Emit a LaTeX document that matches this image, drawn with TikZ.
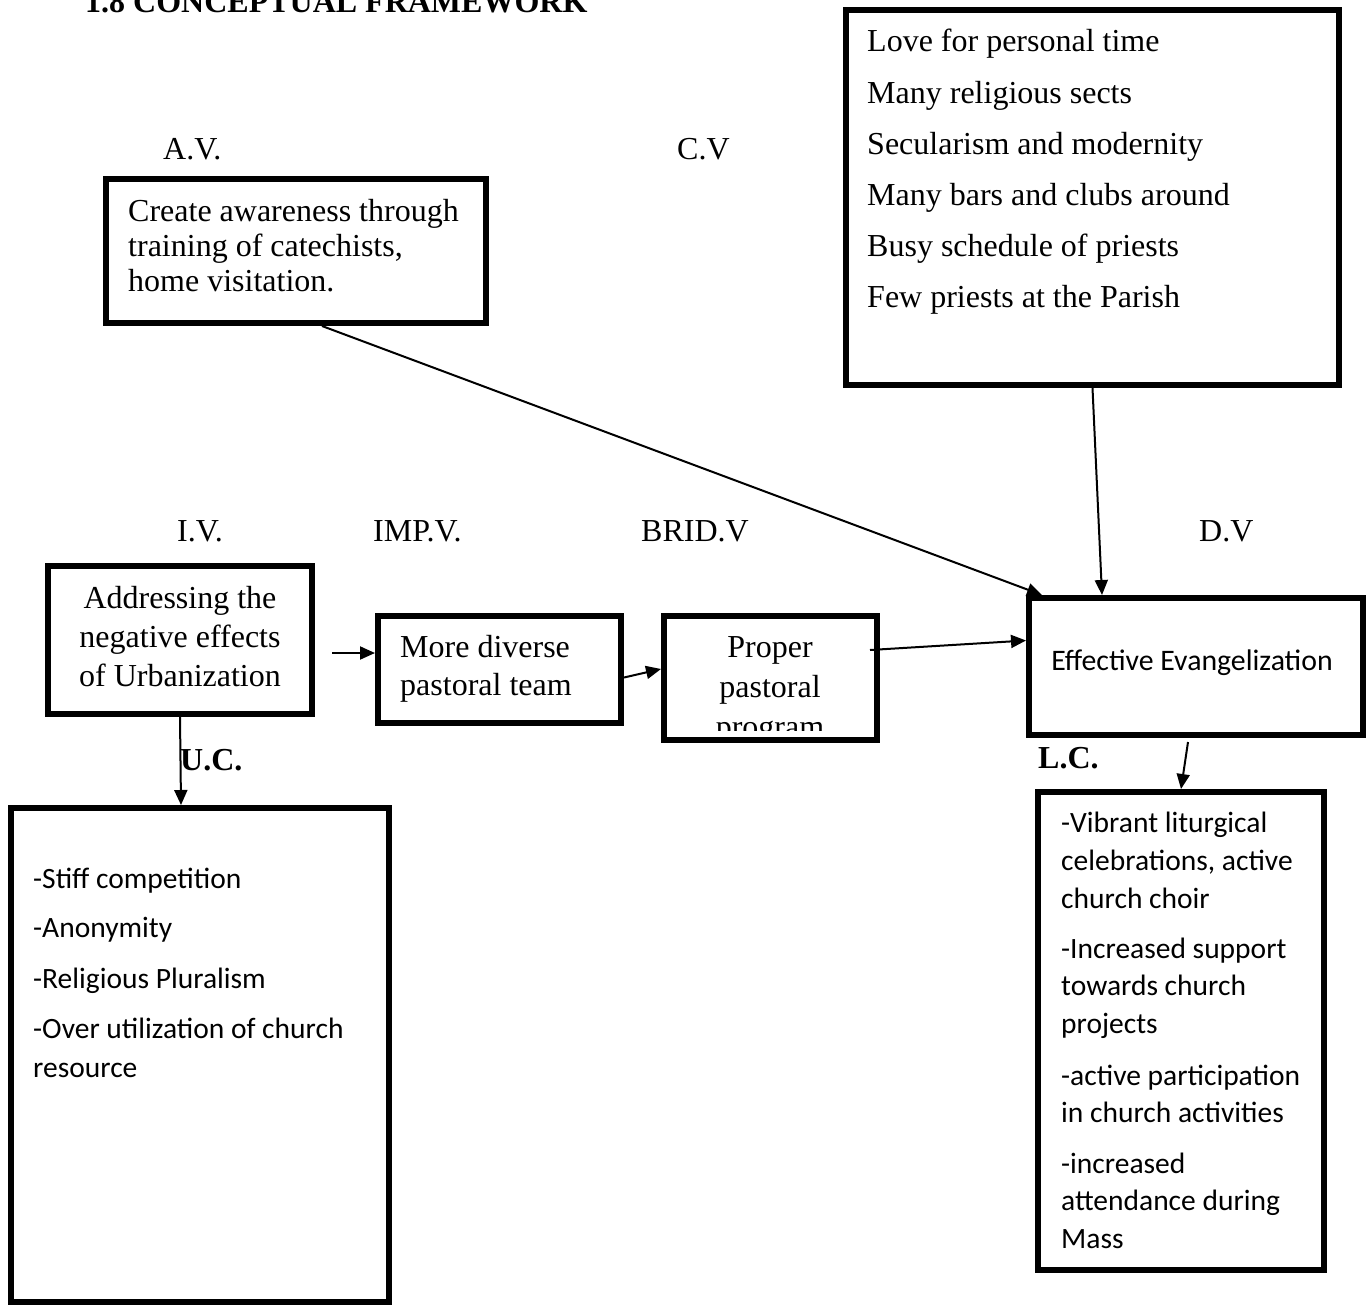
\documentclass[tikz,border=0pt]{standalone}
\usepackage{fontspec}
\setmainfont{Liberation Serif}
\newfontfamily\calibri{Carlito}
\usetikzlibrary{arrows.meta,calc}
\tikzset{
  box/.style={draw, line width=6pt, inner sep=0pt, anchor=north west},
  tms/.style={font=\fontsize{32}{35}\selectfont, inner sep=0pt},
  tmsb/.style={font=\bfseries\fontsize{32}{35}\selectfont, inner sep=0pt},
  cal/.style={font=\calibri\fontsize{29.5}{35}\selectfont, inner sep=0pt},
  arr/.style={line width=2pt, -{Triangle[length=15pt,width=13pt]}},
}
\begin{document}
\begin{tikzpicture}[x=1pt,y=-1pt]
\fill[white] (0,0) rectangle (1367,1306);
\useasboundingbox (0,0) rectangle (1367,1306);

% title (cut off at the top)
\node[tmsb, anchor=base west] (title) at (85,13) {1.8 CONCEPTUAL FRAMEWORK};

% boxes
\node[box, minimum width=380pt, minimum height=144pt] (av) at (103,176) {};
\node[box, minimum width=493pt, minimum height=375pt] (cv) at (843,7) {};
\node[box, minimum width=264pt, minimum height=148pt] (addr) at (45,563) {};
\node[box, minimum width=243pt, minimum height=107pt] (mdiv) at (375,613) {};
\node[box, minimum width=213pt, minimum height=124pt] (prop) at (661,613) {};
\node[box, minimum width=334pt, minimum height=137pt] (eff) at (1026,595) {};
\node[box, minimum width=378pt, minimum height=494pt] (uc) at (8,805) {};
\node[box, minimum width=286pt, minimum height=478pt] (lc) at (1035,789) {};

% variable labels
\node[tms, anchor=base west] (lav) at (163,159) {A.V.};
\node[tms, anchor=base west] (lcv) at (677,159) {C.V};
\node[tms, anchor=base west] (liv) at (177,541) {I.V.};
\node[tms, anchor=base west] (limp) at (373,541) {IMP.V.};
\node[tms, anchor=base west] (lbrid) at (641,541) {BRID.V};
\node[tms, anchor=base west] (ldv) at (1199,541) {D.V};
\node[tmsb, anchor=base west] (luc) at (180,770) {U.C.};
\node[tmsb, anchor=base west] (llc) at (1038,768) {L.C.};

% A.V. box text
\node[tms, anchor=base west] (av1) at (128,221) {Create awareness through};
\node[tms, anchor=base west] (av2) at (128,256) {training of catechists,};
\node[tms, anchor=base west] (av3) at (128,291) {home visitation.};

% C.V. box text
\node[tms, anchor=base west] (cv1) at (867,52) {Love for personal time};
\node[tms, anchor=base west] (cv2) at (867,103) {Many religious sects};
\node[tms, anchor=base west] (cv3) at (867,154) {Secularism and modernity};
\node[tms, anchor=base west] (cv4) at (867,205) {Many bars and clubs around};
\node[tms, anchor=base west] (cv5) at (867,256) {Busy schedule of priests};
\node[tms, anchor=base west] (cv6) at (867,307) {Few priests at the Parish};

% I.V. box text
\node[tms, anchor=base] (ad1) at (180,608) {Addressing the};
\node[tms, anchor=base] (ad2) at (180,647) {negative effects};
\node[tms, anchor=base] (ad3) at (180,686) {of Urbanization};

% IMP.V. box text
\node[tms, anchor=base west] (md1) at (400,657) {More diverse};
\node[tms, anchor=base west] (md2) at (400,695) {pastoral team};

% BRID.V box text (last line cut)
\begin{scope}
\clip (661,613) rectangle (880,730);
\node[tms, anchor=base] (pp1) at (770,657) {Proper};
\node[tms, anchor=base] (pp2) at (770,697) {pastoral};
\node[tms, anchor=base] (pp3) at (770,737) {program};
\end{scope}

% D.V. box text
\node[cal, font=\calibri\fontsize{29.8}{35}\selectfont, anchor=base] (ef1) at (1192,670) {Effective Evangelization};

% U.C. box text
\node[cal, anchor=base west] (uc1) at (33,888) {-Stiff competition};
\node[cal, anchor=base west] (uc2) at (33,937) {-Anonymity};
\node[cal, anchor=base west] (uc3) at (33,988) {-Religious Pluralism};
\node[cal, anchor=base west] (uc4) at (33,1038) {-Over utilization of church};
\node[cal, anchor=base west] (uc5) at (33,1077) {resource};

% L.C. box text
\node[cal, anchor=base west] (lc1) at (1061,832) {-Vibrant liturgical};
\node[cal, anchor=base west] (lc2) at (1061,870) {celebrations, active};
\node[cal, anchor=base west] (lc3) at (1061,908) {church choir};
\node[cal, anchor=base west] (lc4) at (1061,958) {-Increased support};
\node[cal, anchor=base west] (lc5) at (1061,995) {towards church};
\node[cal, anchor=base west] (lc6) at (1061,1033) {projects};
\node[cal, anchor=base west] (lc7) at (1061,1085) {-active participation};
\node[cal, anchor=base west] (lc8) at (1061,1122) {in church activities};
\node[cal, anchor=base west] (lc9) at (1061,1173) {-increased};
\node[cal, anchor=base west] (lc10) at (1061,1210) {attendance during};
\node[cal, anchor=base west] (lc11) at (1061,1248) {Mass};

% connectors
\draw[arr] ([xshift=26pt]av.south) -- ([xshift=16pt]eff.north west);
\draw[arr] (cv.south) -- ([xshift=76pt]eff.north west);
\draw[arr] ([xshift=17pt,yshift=-13pt]addr.east) -- ([yshift=16.5pt]mdiv.west);
\draw[arr] ([yshift=-8pt]mdiv.east) -- ([yshift=9pt]prop.west);
\draw[arr] ([xshift=-10pt,yshift=28pt]prop.east) -- ([yshift=26pt]eff.west);
\draw[arr] (addr.south) -- ([xshift=-19pt]uc.north);
\draw[arr] ([xshift=-8pt,yshift=-4pt]eff.south) -- (lc.north);
\end{tikzpicture}
\end{document}
